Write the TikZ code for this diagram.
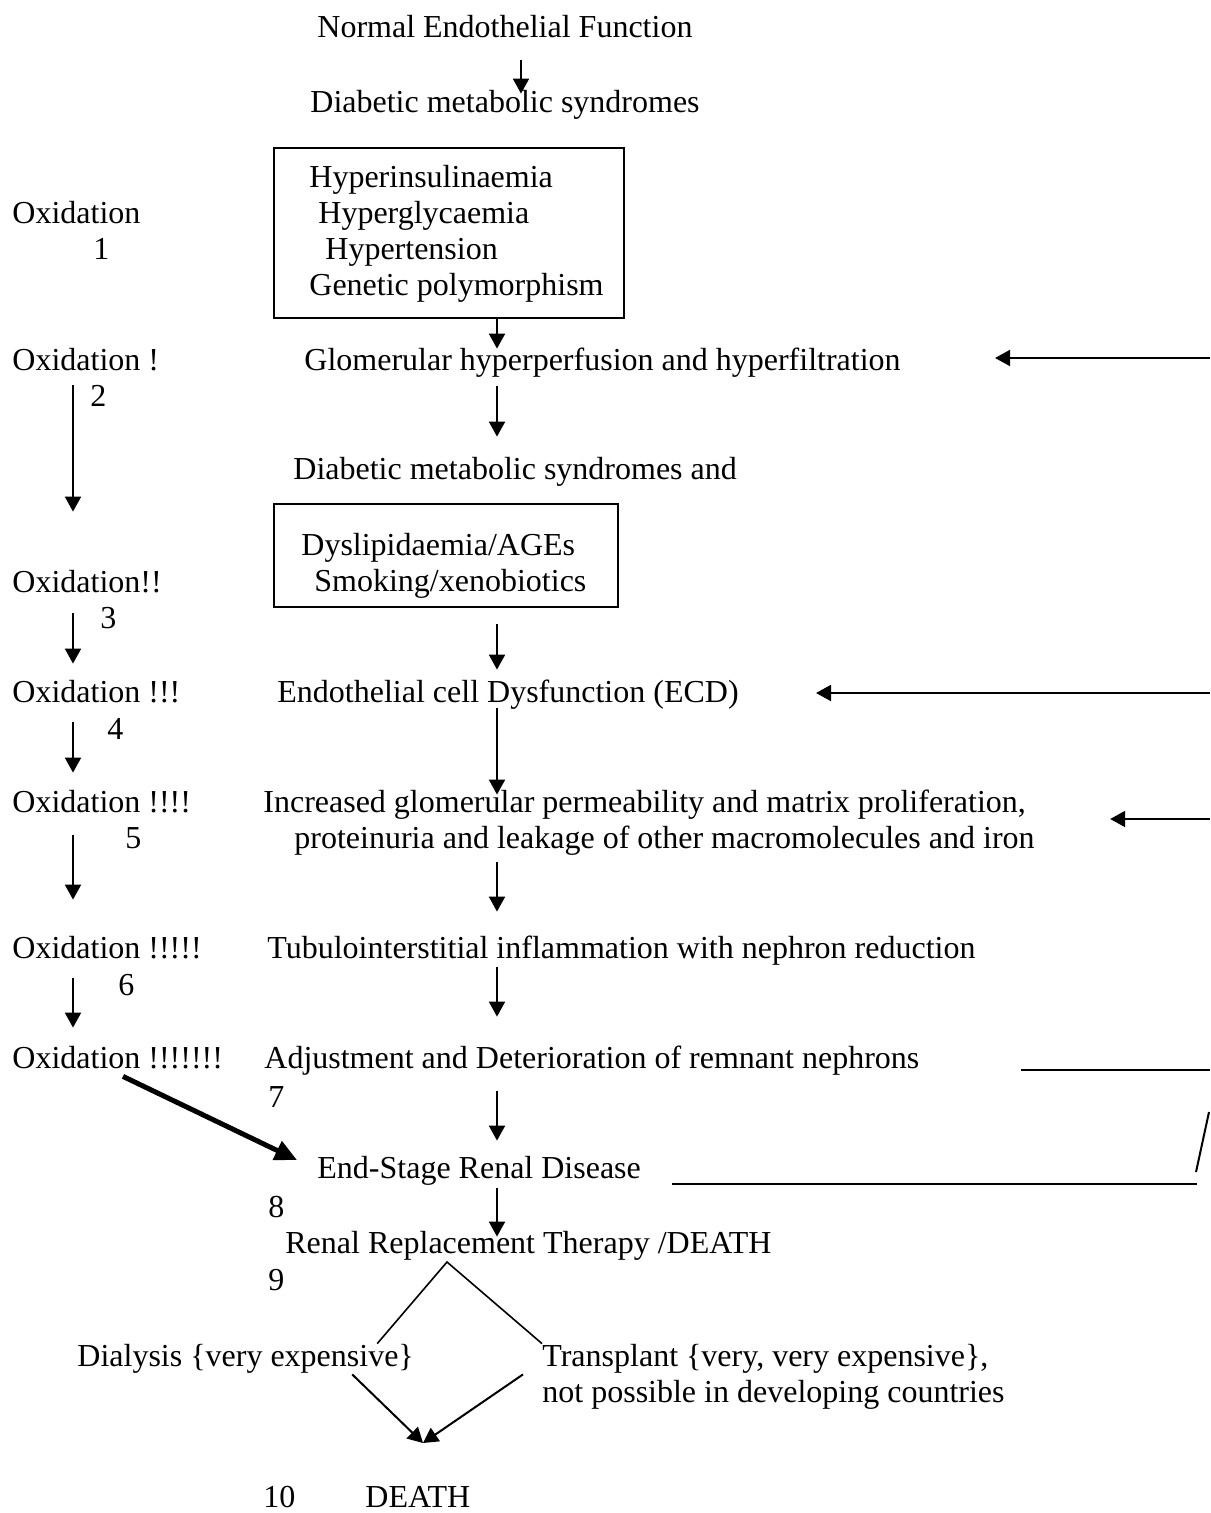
\documentclass[tikz,border=0pt]{standalone}
\usepackage{fontspec}
\setmainfont{Liberation Serif}
\usetikzlibrary{arrows.meta}

\begin{document}
\begin{tikzpicture}[x=0.5pt, y=-0.5pt, font=\fontsize{16pt}{18pt}\selectfont,
  >={Triangle[length=7.5pt,width=8pt]},
  t/.style={anchor=base west, inner sep=0pt, text height=11pt, text depth=4pt},
  bx/.style={draw, line width=1pt, anchor=north west, inner sep=0pt},
  a/.style={->, line width=1pt},
  ln/.style={line width=1pt}]
\useasboundingbox (0,0) rectangle (1210,1513);
\coordinate (top) at (521,0);
\coordinate (sp) at (497,0);  % middle column of arrows
\coordinate (lf) at (73,0);   % left column of arrows

% middle column
\node[t] (norm) at (317,38) {Normal Endothelial Function};
\node[t] (diab1) at (310,113) {Diabetic metabolic syndromes};
\node[bx, minimum width=175pt, minimum height=85pt] (box1) at (273,147) {};
\node[t] (hins) at (309,188) {Hyperinsulinaemia};
\node[t] (hgly) at (318,224) {Hyperglycaemia};
\node[t] (hten) at (325,260) {Hypertension};
\node[t] (gen) at (309,296) {Genetic polymorphism};
\node[t] (glom) at (304,371) {Glomerular hyperperfusion and hyperfiltration};
\node[t] (diab2) at (293,480) {Diabetic metabolic syndromes and};
\node[bx, minimum width=172pt, minimum height=51.5pt] (box2) at (273,503) {};
\node[t] (dys) at (301,555) {Dyslipidaemia/AGEs};
\node[t] (smk) at (314,591) {Smoking/xenobiotics};
\node[t] (ecd) at (277,702) {Endothelial cell Dysfunction (ECD)};
\node[t] (inc) at (263,812) {Increased glomerular permeability and matrix proliferation,};
\node[t] (prot) at (294,848) {proteinuria and leakage of other macromolecules and iron};
\node[t] (tub) at (267,958) {Tubulointerstitial inflammation with nephron reduction};
\node[t] (adj) at (264,1068) {Adjustment and Deterioration of remnant nephrons};
\node[t] (esrd) at (317,1178) {End-Stage Renal Disease};
\node[t] (rrt) at (285,1253) {Renal Replacement Therapy /DEATH};
\node[t] (dial) at (77,1366) {Dialysis \{very expensive\}};
\node[t] (trans) at (542,1366) {Transplant \{very, very expensive\},};
\node[t] (notp) at (542,1402) {not possible in developing countries};
\node[t, text depth=1pt] (n10) at (263,1507) {10};
\node[t, text depth=1pt] (death) at (365,1507) {DEATH};

% left column
\node[t] (ox1) at (12,224) {Oxidation};
\node[t] (ox2) at (12,371) {Oxidation !};
\node[t] (ox3) at (12,592) {Oxidation!!};
\node[t] (ox4) at (12,702) {Oxidation !!!};
\node[t] (ox5) at (12,812) {Oxidation !!!!};
\node[t] (ox6) at (12,958) {Oxidation !!!!!};
\node[t] (ox7) at (12,1068) {Oxidation !!!!!!!};
\node[t] (n1) at (93,260) {1};
\node[t] (n2) at (90,407) {2};
\node[t] (n3) at (100,628) {3};
\node[t] (n4) at (107,739) {4};
\node[t] (n5) at (125,848) {5};
\node[t] (n6) at (118,995) {6};
\node[t] (n7) at (268,1107) {7};
\node[t] (n8) at (268,1217) {8};
\node[t] (n9) at (268,1290) {9};

% arrows down the middle
\draw[a, shorten <=7pt, shorten >=-1.5pt] (norm.south -| top) -- (diab1.north -| top);
\draw[a] (box1.south -| sp) -- (glom.north -| sp);
\draw[a, shorten <=3.5pt, shorten >=10.5pt] (glom.south -| sp) -- (diab2.north -| sp);
\draw[a, shorten <=8pt, shorten >=5pt] (box2.south -| sp) -- (ecd.north -| sp);
\draw[a, shorten <=-1pt, shorten >=-2.5pt] (ecd.south -| sp) -- (inc.north -| sp);
\draw[a, shorten <=3pt, shorten >=12pt] (prot.south -| sp) -- (tub.north -| sp);
\draw[a, shorten <=0.5pt, shorten >=14.5pt] (tub.south -| sp) -- (adj.north -| sp);
\draw[a, shorten <=7.5pt, shorten >=7.5pt] (adj.south -| sp) -- (esrd.north -| sp);
\draw[a, shorten <=1pt, shorten >=-3pt] (esrd.south -| sp) -- (rrt.north -| sp);

% arrows down the left
\foreach \p/\q/\s/\e in {ox2/ox3/3/29, ox3/ox4/6.5/8, ox4/ox5/6/8.5, ox5/ox6/7.5/18, ox6/ox7/6/9}
  \draw[a, shorten <=\s pt, shorten >=\e pt] (\p.south -| lf) -- (\q.north -| lf);
\draw[line width=2.5pt, -{Triangle[length=11pt,width=10pt]}]
  ([xshift=55.5pt]ox7.south west) -- ([xshift=-10pt,yshift=5.5pt]esrd.west);

% feedback from the right edge
\coordinate (r1) at (1210,358);
\coordinate (r2) at (1210,693);
\coordinate (r3) at (1210,819);
\draw[a, shorten >=47pt] (r1) -- (r1 -| glom.east);
\draw[a, shorten >=38.5pt] (r2) -- (r2 -| ecd.east);
\draw[a, shorten >=42pt] (r3) -- (r3 -| inc.east);
\coordinate (q1) at (1021,1070);
\coordinate (q2) at (1210,1070);
\coordinate (q3) at (1209,1112);
\coordinate (q4) at (1196,1172);
\coordinate (q5) at (1197,1184);
\coordinate (q6) at (672,1184);
\draw[ln] (q1) -- (q2);
\draw[ln] (q3) -- (q4);
\draw[ln] (q5) -- (q6);

% therapy branch
\coordinate (apex) at (447,1262);
\coordinate (meet) at (423,1443);
\draw[line width=0.8pt] ([xshift=-18.5pt]dial.north east) -- (apex) -- (trans.north west);
\draw[a] ([xshift=-31pt]dial.south east) -- (meet);
\draw[a] ([xshift=-9.5pt]trans.south west) -- (meet);
\end{tikzpicture}
\end{document}
